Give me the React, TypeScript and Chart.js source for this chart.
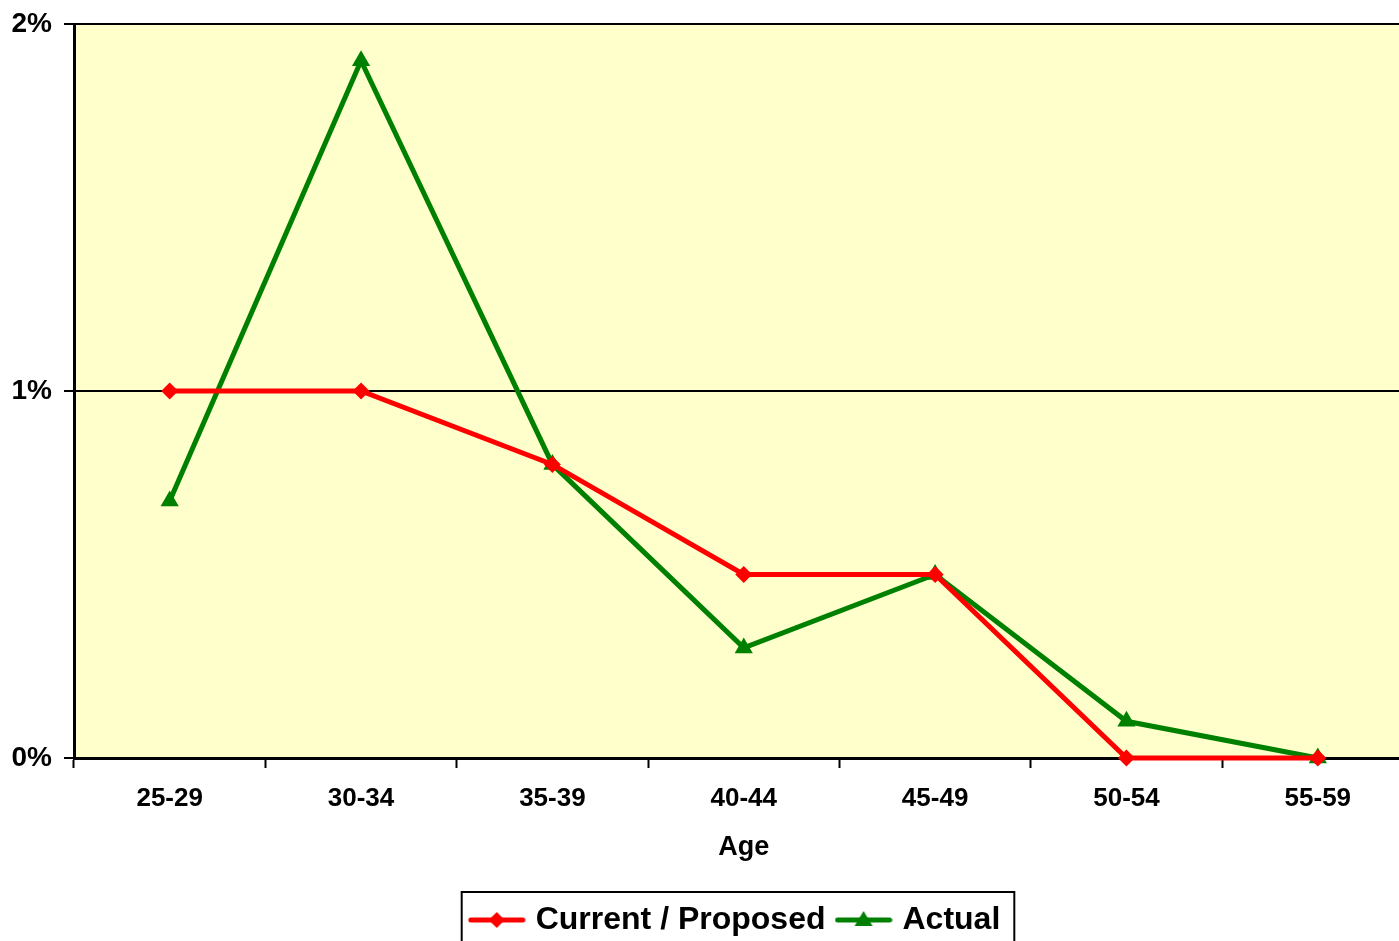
import React, { useEffect, useRef } from "react";
import { Chart, registerables } from "chart.js";

Chart.register(...registerables);

const categories = ["25-29", "30-34", "35-39", "40-44", "45-49", "50-54", "55-59"];
const currentProposed = [1.0, 1.0, 0.8, 0.5, 0.5, 0.0, 0.0];
const actual = [0.7, 1.9, 0.8, 0.3, 0.5, 0.1, 0.0];
const yTicks = [0, 1, 2];
const seriesNames = ["Current / Proposed", "Actual"];
const xTitle = "Age";

const FONT = "Arial, 'Liberation Sans', sans-serif";

function makeLegendIcon(color: string, style: "diamond" | "triangle") {
  const c = document.createElement("canvas");
  c.width = 58;
  c.height = 22;
  const ctx = c.getContext("2d")!;
  ctx.strokeStyle = color;
  ctx.lineWidth = 5;
  ctx.lineCap = "round";
  ctx.beginPath();
  ctx.moveTo(3, 11);
  ctx.lineTo(55, 11);
  ctx.stroke();
  ctx.fillStyle = color;
  ctx.beginPath();
  if (style === "diamond") {
    ctx.moveTo(29, 3);
    ctx.lineTo(37, 11);
    ctx.lineTo(29, 19);
    ctx.lineTo(21, 11);
  } else {
    ctx.moveTo(29, 2);
    ctx.lineTo(38, 17);
    ctx.lineTo(20, 17);
  }
  ctx.closePath();
  ctx.fill();
  return c;
}

export default function App() {
  const ref = useRef<HTMLCanvasElement | null>(null);

  useEffect(() => {
    document.body.style.margin = "0";
    const canvas = ref.current!;
    const icons = [makeLegendIcon("#FF0000", "diamond"), makeLegendIcon("#008000", "triangle")];

    const bgPlugin = {
      id: "bgPlugin",
      beforeDraw(chart: any) {
        const { ctx, chartArea } = chart;
        ctx.save();
        ctx.fillStyle = "#FFFFCC";
        ctx.fillRect(chartArea.left, chartArea.top, chartArea.right - chartArea.left, chartArea.bottom - chartArea.top);
        ctx.restore();
      },
    };

    const legendShift = {
      id: "legendShift",
      afterUpdate(chart: any) {
        const lg = chart.legend;
        if (!lg) return;
        const dx = 29;
        lg.left += dx;
        lg.right += dx;
        (lg.legendHitBoxes || []).forEach((h: any) => (h.left += dx));
      },
      afterDraw(chart: any) {
        const lg = chart.legend;
        if (!lg || !lg.legendHitBoxes || !lg.legendHitBoxes.length) return;
        const hb = lg.legendHitBoxes;
        const first = hb[0];
        const last = hb[hb.length - 1];
        const cy = first.top + first.height / 2;
        const ctx = chart.ctx;
        ctx.save();
        ctx.strokeStyle = "#000000";
        ctx.lineWidth = 2;
        const left = first.left - 12;
        const right = last.left + last.width + 14;
        ctx.strokeRect(left, cy - 28, right - left, 62);
        ctx.restore();
      },
    };

    const chart = new Chart(canvas, {
      type: "line",
      data: {
        labels: categories,
        datasets: [
          {
            label: seriesNames[0],
            data: currentProposed,
            borderColor: "#FF0000",
            backgroundColor: "#FF0000",
            borderWidth: 5,
            pointStyle: "rectRot",
            pointRadius: 8.5,
            pointBorderWidth: 0,
            tension: 0,
            clip: false as any,
          },
          {
            label: seriesNames[1],
            data: actual,
            borderColor: "#008000",
            backgroundColor: "#008000",
            borderWidth: 5,
            pointStyle: "triangle",
            pointRadius: 10.5,
            pointBorderWidth: 0,
            tension: 0,
            clip: false as any,
          },
        ],
      },
      options: {
        animation: false,
        responsive: false,
        maintainAspectRatio: false,
        devicePixelRatio: 1,
        layout: { padding: { top: 24, left: 0, right: 8, bottom: 0 } },
        plugins: {
          tooltip: { enabled: false },
          legend: {
            display: true,
            position: "bottom",
            labels: {
              usePointStyle: true,
              pointStyleWidth: 46,
              padding: 15,
              color: "#000000",
              font: { family: FONT, size: 32, weight: "bold" },
              generateLabels: () =>
                seriesNames.map((n, i) => ({
                  text: n,
                  pointStyle: icons[i] as any,
                  fillStyle: "transparent",
                  strokeStyle: "transparent",
                  lineWidth: 0,
                  hidden: false,
                  datasetIndex: i,
                })),
            },
          },
        },
        scales: {
          x: {
            type: "category",
            offset: true,
            grid: {
              offset: true,
              drawOnChartArea: false,
              drawTicks: true,
              tickLength: 10,
              tickWidth: 2,
              tickColor: "#000000",
            },
            border: { display: true, color: "#000000", width: 3 },
            ticks: {
              color: "#000000",
              padding: 15,
              maxRotation: 0,
              autoSkip: false,
              font: { family: FONT, size: 26, weight: "bold" },
            },
            title: {
              display: true,
              text: xTitle,
              color: "#000000",
              padding: { top: 0, bottom: 25 },
              font: { family: FONT, size: 27, weight: "bold" },
            },
            afterFit(scale: any) {
              scale.height = 131;
              scale.paddingLeft = 0;
              scale.paddingRight = 0;
            },
          },
          y: {
            min: 0,
            max: 2,
            afterBuildTicks(scale: any) {
              scale.ticks = yTicks.map((v) => ({ value: v }));
            },
            grid: {
              color: "#000000",
              lineWidth: 2,
              drawTicks: true,
              tickLength: 10,
              tickColor: "#000000",
              tickWidth: 2,
            },
            border: { display: true, color: "#000000", width: 3 },
            ticks: {
              color: "#000000",
              padding: 12,
              font: { family: FONT, size: 28, weight: "bold" },
              callback: (v: any) => `${v}%`,
            },
            afterFit(scale: any) {
              scale.width = 74;
              scale.paddingTop = 0;
              scale.paddingBottom = 0;
            },
          },
        },
      } as any,
      plugins: [bgPlugin, legendShift],
    });

    return () => chart.destroy();
  }, []);

  return (
    <div style={{ width: 1399, height: 941, overflow: "hidden", position: "relative" }}>
      <canvas ref={ref} width={1424} height={946} style={{ display: "block", width: 1424, height: 946 }} />
    </div>
  );
}
